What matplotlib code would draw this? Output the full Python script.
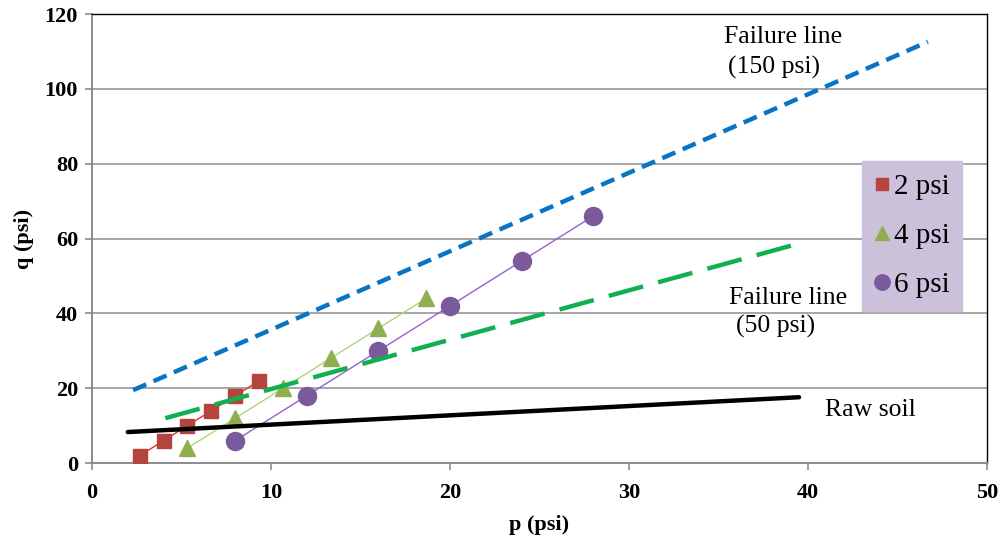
import matplotlib

matplotlib.use("Agg")
import matplotlib.pyplot as plt

plt.rcParams["font.family"] = ["Liberation Serif", "DejaVu Serif"]

# triaxial test points, p = sigma3 + q/3
p_2psi = [2.67, 4.0, 5.33, 6.67, 8.0, 9.33]
q_2psi = [2, 6, 10, 14, 18, 22]
p_4psi = [5.33, 8.0, 10.67, 13.33, 16.0, 18.67]
q_4psi = [4, 12, 20, 28, 36, 44]
p_6psi = [8, 12, 16, 20, 24, 28]
q_6psi = [6, 18, 30, 42, 54, 66]

# failure lines (end points)
p_fail150 = [2.3, 46.7]
q_fail150 = [19.5, 112.6]
p_fail50 = [4.1, 39.2]
q_fail50 = [12.0, 58.3]
p_raw = [2.0, 39.5]
q_raw = [8.3, 17.6]

series_labels = ["2 psi", "4 psi", "6 psi"]

fig = plt.figure(figsize=(10.04, 5.41), dpi=100)
ax = fig.add_axes([0.0916, 0.144, 0.8914, 0.830])

ax.plot(p_2psi, q_2psi, color="#e8302a", linewidth=1.0, zorder=3)
ax.plot(p_4psi, q_4psi, color="#a8d878", linewidth=1.0, zorder=3)
ax.plot(p_6psi, q_6psi, color="#9a5fd0", linewidth=1.0, zorder=3)

ax.plot(p_2psi, q_2psi, linestyle="none", marker="s", markersize=9.5,
        color="#b5443f", label=series_labels[0], zorder=4)
ax.plot(p_4psi, q_4psi, linestyle="none", marker="^", markersize=12,
        color="#8fae4f", label=series_labels[1], zorder=4)
ax.plot(p_6psi, q_6psi, linestyle="none", marker="o", markersize=13,
        color="#7b5a9c", label=series_labels[2], zorder=4)

ax.plot(p_fail150, q_fail150, color="#0a74c4", linewidth=3.2,
        dashes=(3.2, 1.8), zorder=5)
ax.plot(p_fail50, q_fail50, color="#10b050", linewidth=3.2,
        dashes=(8, 3.5), zorder=5)
ax.plot(p_raw, q_raw, color="black", linewidth=3.2,
        solid_capstyle="round", zorder=5)

ax.text(38.6, 113.9, "Failure line", ha="center", va="center", fontsize=18.5)
ax.text(38.1, 105.6, "(150 psi)", ha="center", va="center", fontsize=18.5)
ax.text(38.9, 44.1, "Failure line", ha="center", va="center", fontsize=18.5)
ax.text(38.2, 36.6, "(50 psi)", ha="center", va="center", fontsize=18.5)
ax.text(43.5, 14.2, "Raw soil", ha="center", va="center", fontsize=18.5)

ax.set_xlim(0, 50)
ax.set_ylim(0, 120)
ax.set_xticks(range(0, 51, 10))
ax.set_yticks(range(0, 121, 20))
ax.grid(True, axis="y", color="#a6a6a6", linewidth=1.4)
ax.set_axisbelow(True)

for lbl in ax.get_xticklabels() + ax.get_yticklabels():
    lbl.set_fontweight("bold")
    lbl.set_fontsize(16)
ax.tick_params(axis="both", direction="out", length=5, width=1.2,
               color="#8c8c8c", pad=5)
ax.tick_params(axis="x", pad=9)

for side in ["left", "bottom"]:
    ax.spines[side].set_color("#8c8c8c")
    ax.spines[side].set_linewidth(1.4)
for side in ["top", "right"]:
    ax.spines[side].set_color("black")
    ax.spines[side].set_linewidth(1.0)

ax.set_xlabel("p (psi)", fontsize=16, fontweight="bold", labelpad=9)
ax.set_ylabel("q (psi)", fontsize=16, fontweight="bold", labelpad=8)

leg = ax.legend(loc="upper left", bbox_to_anchor=(0.860, 0.672),
                fontsize=21, frameon=True, fancybox=False,
                handlelength=0.55, handletextpad=0.15, labelspacing=0.78,
                borderpad=0.42, borderaxespad=0, markerscale=0.85)
leg.get_frame().set_facecolor("#ccc1da")
leg.get_frame().set_edgecolor("#ccc1da")
leg.get_frame().set_alpha(1.0)

fig.savefig("out.png", dpi=100)
